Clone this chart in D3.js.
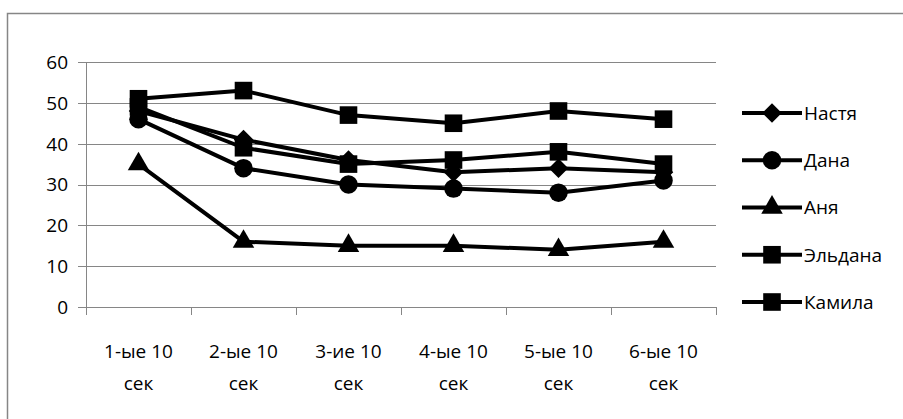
<!DOCTYPE html>
<html>
<head>
<meta charset="utf-8">
<script src="https://cdn.jsdelivr.net/npm/d3@7"></script>
<style>
  body { margin: 0; background: #fff; }
  text { font-family: "Open Sans", sans-serif; fill: #000; }
</style>
</head>
<body>
<div class="chart-div"></div>
<script>
// categories and series
const categories = ['1-ые 10 сек', '2-ые 10 сек', '3-ие 10 сек', '4-ые 10 сек', '5-ые 10 сек', '6-ые 10 сек'];
const nastya  = [48, 41, 36, 33, 34, 33];
const dana    = [46, 34, 30, 29, 28, 31];
const anya    = [35, 16, 15, 15, 14, 16];
const eldana  = [49, 39, 35, 36, 38, 35];
const kamila  = [51, 53, 47, 45, 48, 46];
const yTicks  = [0, 10, 20, 30, 40, 50, 60];

const series = [
  { name: 'Настя',   values: nastya, marker: 'diamond' },
  { name: 'Дана',    values: dana,   marker: 'circle' },
  { name: 'Аня',     values: anya,   marker: 'triangle' },
  { name: 'Эльдана', values: eldana, marker: 'square' },
  { name: 'Камила',  values: kamila, marker: 'square' }
];

const width = 903, height = 419;
const margin = { top: 62, right: 187, bottom: 112, left: 86 };
const fontSize = '19px';

let svg = d3.select('.chart-div').append('svg')
  .attr('width', width)
  .attr('height', height);

// outer frame (only left + top edges fall inside the picture)
svg.append('rect')
  .attr('x', 7.5).attr('y', 13.5)
  .attr('width', 960).attr('height', 500)
  .style('fill', 'none')
  .style('stroke', '#868686')
  .style('stroke-width', 1.5);

let x = d3.scaleBand()
  .domain(categories)
  .range([margin.left, width - margin.right]);

let y = d3.scaleLinear()
  .domain([0, 60])
  .range([height - margin.bottom, margin.top]);

// gridlines
svg.append('g')
  .selectAll('line')
  .data(yTicks)
  .enter()
  .append('line')
  .attr('x1', margin.left - 8)
  .attr('x2', width - margin.right)
  .attr('y1', d => Math.round(y(d)) + 0.5)
  .attr('y2', d => Math.round(y(d)) + 0.5)
  .style('stroke', '#868686')
  .style('stroke-width', 1);

// y axis line
svg.append('line')
  .attr('x1', margin.left + 0.5).attr('x2', margin.left + 0.5)
  .attr('y1', y(60)).attr('y2', y(0))
  .style('stroke', '#868686');

// y labels
svg.append('g')
  .selectAll('text')
  .data(yTicks)
  .enter()
  .append('text')
  .attr('x', 68)
  .attr('y', d => y(d))
  .attr('dy', '0.36em')
  .style('text-anchor', 'end')
  .style('font-size', fontSize)
  .text(d => d);

// x ticks at band boundaries
let bounds = categories.map(c => x(c)).concat([x(categories[categories.length - 1]) + x.bandwidth()]);
svg.append('g')
  .selectAll('line')
  .data(bounds)
  .enter()
  .append('line')
  .attr('x1', d => Math.round(d) + 0.5)
  .attr('x2', d => Math.round(d) + 0.5)
  .attr('y1', y(0))
  .attr('y2', y(0) + 8)
  .style('stroke', '#868686');

// x labels, two lines each
let xl = svg.append('g')
  .selectAll('text')
  .data(categories)
  .enter()
  .append('text')
  .style('text-anchor', 'middle')
  .style('font-size', fontSize);
xl.append('tspan')
  .attr('x', d => x(d) + x.bandwidth() / 2)
  .attr('y', 358)
  .text(d => d.split(' ').slice(0, 2).join(' '));
xl.append('tspan')
  .attr('x', d => x(d) + x.bandwidth() / 2)
  .attr('y', 390)
  .text(d => d.split(' ').slice(2).join(' '));

const symbolFor = {
  diamond: d3.symbol().type(d3.symbolSquare).size(190),
  circle: d3.symbol().type(d3.symbolCircle).size(270),
  triangle: d3.symbol().type(d3.symbolTriangle).size(200),
  square: d3.symbol().type(d3.symbolSquare).size(310)
};
const rotFor = { diamond: 45, circle: 0, triangle: 0, square: 0 };

let line = d3.line()
  .x((d, i) => x(categories[i]) + x.bandwidth() / 2)
  .y(d => y(d));

series.forEach(s => {
  let g = svg.append('g');
  g.append('path')
    .datum(s.values)
    .attr('d', line)
    .style('fill', 'none')
    .style('stroke', '#000')
    .style('stroke-width', 4)
    .style('stroke-linejoin', 'round');
  g.selectAll('path.marker')
    .data(s.values)
    .enter()
    .append('path')
    .attr('class', 'marker')
    .attr('transform', (d, i) => `translate(${x(categories[i]) + x.bandwidth() / 2},${y(d)}) rotate(${rotFor[s.marker]})`)
    .attr('d', symbolFor[s.marker]())
    .style('fill', '#000');
});

// legend
const legendY = d3.scaleLinear().domain([0, 4]).range([113, 302]);
let lg = svg.append('g')
  .selectAll('g')
  .data(series)
  .enter()
  .append('g')
  .attr('transform', (d, i) => `translate(0,${legendY(i)})`);
lg.append('line')
  .attr('x1', 742).attr('x2', 802)
  .attr('y1', 0).attr('y2', 0)
  .style('stroke', '#000')
  .style('stroke-width', 4);
lg.append('path')
  .attr('transform', d => `translate(772,0) rotate(${rotFor[d.marker]})`)
  .attr('d', d => symbolFor[d.marker]())
  .style('fill', '#000');
lg.append('text')
  .attr('x', 804)
  .attr('y', 0)
  .attr('dy', '0.36em')
  .style('font-size', fontSize)
  .text(d => d.name);
</script>
</body>
</html>
